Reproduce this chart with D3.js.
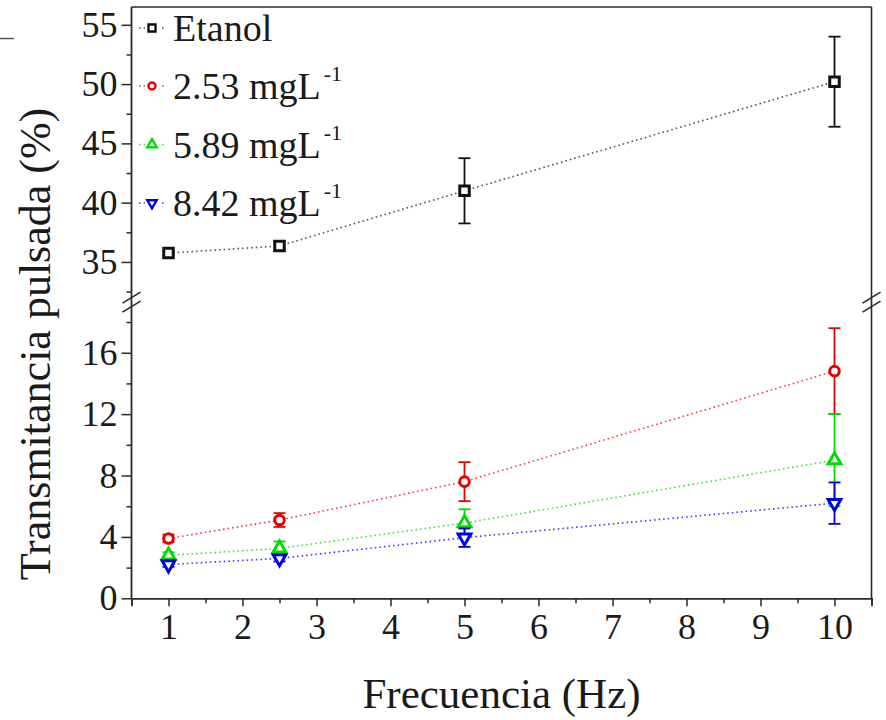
<!DOCTYPE html>
<html>
<head>
<meta charset="utf-8">
<script src="https://cdn.jsdelivr.net/npm/d3@7"></script>
<style>
  html, body { margin: 0; padding: 0; background: #fff; }
  svg { display: block; }
  text { font-family: "Liberation Serif", "Times New Roman", serif; fill: #1a1a1a; }
</style>
</head>
<body>
<svg id="chart" width="886" height="720"></svg>
<script>
// ---- data ----
const freq = [1, 2.5, 5, 10];
const etanol = [35.75, 36.35, 41.0, 50.2];
const etanolErr = [0.15, 0.4, 2.75, 3.8];
const c253 = [3.9, 5.1, 7.6, 14.8];
const c253Err = [0.25, 0.45, 1.27, 2.8];
const c589 = [2.8, 3.25, 4.9, 9.0];
const c589Err = [0.2, 0.45, 0.9, 3.0];
const c842 = [2.2, 2.6, 3.95, 6.2];
const c842Err = [0.15, 0.2, 0.6, 1.35];

const seriesNames = ["Etanol", "2.53 mgL", "5.89 mgL", "8.42 mgL"];
const seriesSup = ["", "-1", "-1", "-1"];
const seriesColors = ["#111111", "#e60000", "#00dd00", "#0000e6"];
const lineColors = ["#555555", "#f04040", "#40e040", "#4040f0"];
const seriesSymbols = ["square", "circle", "triangle", "triangleDown"];

const xTicks = [1, 2, 3, 4, 5, 6, 7, 8, 9, 10];
const xMinor = [0.5, 1.5, 2.5, 3.5, 4.5, 5.5, 6.5, 7.5, 8.5, 9.5, 10.5];
const yTopTicks = [35, 40, 45, 50, 55];
const yTopMinor = [32.5, 37.5, 42.5, 47.5, 52.5];
const yBotTicks = [0, 4, 8, 12, 16];
const yBotMinor = [2, 6, 10, 14, 18];

// ---- layout ----
const svg = d3.select("#chart");
const pLeft = 131.5, pRight = 871.5, pTop = 7, pBottom = 598.3;

const x = d3.scaleLinear().domain([0.5, 10.5]).range([pLeft, pRight]);
const yTop = d3.scaleLinear().domain([32.5, 56.5]).range([291.6, pTop]);
const yBot = d3.scaleLinear().domain([0, 19]).range([pBottom, 306.7]);

const axisColor = "#2a2a2a";

// stray artifact line at top-left of the reference crop
svg.append("line").attr("x1", 0).attr("x2", 14).attr("y1", 38.5).attr("y2", 38.5)
  .attr("stroke", "#555").attr("stroke-width", 1.5);

// frame
svg.append("line").attr("x1", pLeft).attr("x2", pRight).attr("y1", pTop).attr("y2", pTop)
  .attr("stroke", axisColor).attr("stroke-width", 1.6);
svg.append("line").attr("x1", pRight).attr("x2", pRight).attr("y1", pTop).attr("y2", pBottom)
  .attr("stroke", axisColor).attr("stroke-width", 1.6);

// x axis
const xAxis = d3.axisBottom(x).tickValues(xTicks).tickSize(8).tickPadding(7)
  .tickFormat(d3.format("d"));
const gx = svg.append("g").attr("transform", `translate(0,${pBottom})`).call(xAxis);
gx.select(".domain").attr("stroke", axisColor).attr("stroke-width", 1.8);
gx.selectAll(".tick line").attr("stroke", axisColor).attr("stroke-width", 1.5);
gx.selectAll(".tick text").attr("font-size", 36).attr("fill", "#1a1a1a")
  .style("font-family", "'Liberation Serif', serif");
const gxm = svg.append("g").attr("transform", `translate(0,${pBottom})`)
  .call(d3.axisBottom(x).tickValues(xMinor).tickSize(5).tickFormat(""));
gxm.select(".domain").remove();
gxm.selectAll(".tick line").attr("stroke", axisColor).attr("stroke-width", 1.5);

// left axis (continuous line)
svg.append("line").attr("x1", pLeft).attr("x2", pLeft).attr("y1", pTop).attr("y2", pBottom)
  .attr("stroke", axisColor).attr("stroke-width", 1.8);

function yAxisPart(scale, major, minor) {
  const g = svg.append("g").attr("transform", `translate(${pLeft},0)`)
    .call(d3.axisLeft(scale).tickValues(major).tickSize(10).tickPadding(4).tickFormat(d3.format("d")));
  g.select(".domain").remove();
  g.selectAll(".tick line").attr("stroke", axisColor).attr("stroke-width", 1.5);
  g.selectAll(".tick text").attr("font-size", 36).attr("fill", "#1a1a1a")
    .style("font-family", "'Liberation Serif', serif");
  const gm = svg.append("g").attr("transform", `translate(${pLeft},0)`)
    .call(d3.axisLeft(scale).tickValues(minor).tickSize(5).tickFormat(""));
  gm.select(".domain").remove();
  gm.selectAll(".tick line").attr("stroke", axisColor).attr("stroke-width", 1.5);
}
yAxisPart(yTop, yTopTicks, yTopMinor);
yAxisPart(yBot, yBotTicks, yBotMinor);

// break marks
const breakMid = (yTop.range()[0] + yBot.range()[1]) / 2;
[breakMid - 1.5, breakMid + 7.5].forEach(cy => {
  [pLeft, pRight].forEach(cx => {
    svg.append("line").attr("x1", cx - 9).attr("y1", cy + 5.5).attr("x2", cx + 9).attr("y2", cy - 5.5)
      .attr("stroke", axisColor).attr("stroke-width", 1.6);
  });
});

// symbol generator
function symbolPath(kind, size) {
  const type = kind === "square" ? d3.symbolSquare
    : kind === "circle" ? d3.symbolCircle : d3.symbolTriangle;
  return d3.symbol().type(type).size(size)();
}
function drawMarker(g, kind, cx, cy, color, scale, sw) {
  const sizes = { square: 90, circle: 72, triangle: 70, triangleDown: 70 };
  const p = g.append("path").attr("d", symbolPath(kind, sizes[kind] * scale))
    .attr("fill", "#fff").attr("stroke", color).attr("stroke-width", sw);
  const rot = kind === "triangleDown" ? " rotate(180)" : "";
  p.attr("transform", `translate(${cx},${cy})${rot}`);
}

// series
const allVals = [etanol, c253, c589, c842];
const allErr = [etanolErr, c253Err, c589Err, c842Err];
const panels = [yTop, yBot, yBot, yBot];

allVals.forEach((vals, si) => {
  const yS = panels[si];
  const color = seriesColors[si];
  const g = svg.append("g");
  const pts = freq.map((f, i) => [f, vals[i]]);
  g.append("path")
    .attr("d", d3.line().x(d => x(d[0])).y(d => yS(d[1]))(pts))
    .attr("fill", "none").attr("stroke", lineColors[si])
    .attr("stroke-width", 1.6).attr("stroke-dasharray", "1.6,3");
  freq.forEach((f, i) => {
    const e = allErr[si][i];
    const cx = x(f), y1 = yS(vals[i] + e), y2 = yS(vals[i] - e);
    g.append("line").attr("x1", cx).attr("x2", cx).attr("y1", y1).attr("y2", y2)
      .attr("stroke", color).attr("stroke-width", 1.8);
    [y1, y2].forEach(yy => g.append("line").attr("x1", cx - 6).attr("x2", cx + 6)
      .attr("y1", yy).attr("y2", yy).attr("stroke", color).attr("stroke-width", 1.8));
  });
  freq.forEach((f, i) => drawMarker(g, seriesSymbols[si], x(f), yS(vals[i]), color, 1, 3));
});

// legend
const legendRows = [28, 86, 144.5, 203];
seriesNames.forEach((name, si) => {
  const cy = legendRows[si];
  const g = svg.append("g");
  g.append("line").attr("x1", 139).attr("x2", 166).attr("y1", cy).attr("y2", cy)
    .attr("stroke", lineColors[si]).attr("stroke-width", 1.6).attr("stroke-dasharray", "1.6,3");
  g.append("rect").attr("x", 145).attr("y", cy - 8).attr("width", 14).attr("height", 16).attr("fill", "#fff");
  drawMarker(g, seriesSymbols[si], 152, cy, seriesColors[si], 0.55, 2.4);
  const t = g.append("text").attr("x", 173).attr("y", cy + 13).attr("font-size", 38);
  t.append("tspan").text(name);
  if (seriesSup[si]) {
    t.append("tspan").attr("font-size", 22).attr("dy", -18).attr("dx", 3).text(seriesSup[si]);
  }
});

// axis titles
svg.append("text").attr("x", (pLeft + pRight) / 2).attr("y", 708)
  .attr("text-anchor", "middle").attr("font-size", 43).text("Frecuencia (Hz)");
svg.append("text").attr("transform", "translate(50,344) rotate(-90)")
  .attr("text-anchor", "middle").attr("font-size", 44).text("Transmitancia pulsada (%)");
</script>
</body>
</html>
